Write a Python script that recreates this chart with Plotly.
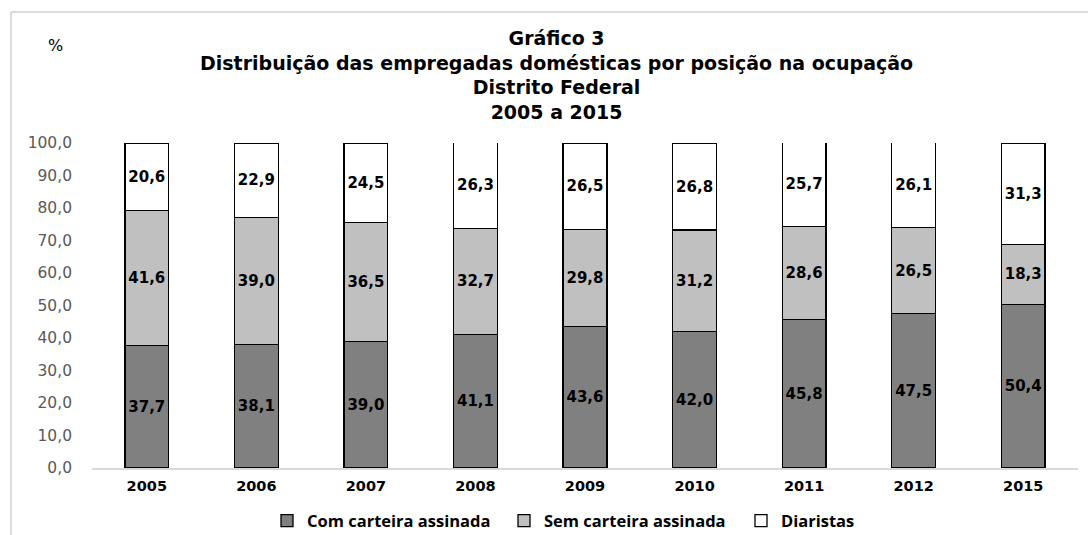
import plotly.graph_objects as go

years = ["2005", "2006", "2007", "2008", "2009", "2010", "2011", "2012", "2015"]
com_carteira = [37.7, 38.1, 39.0, 41.1, 43.6, 42.0, 45.8, 47.5, 50.4]
sem_carteira = [41.6, 39.0, 36.5, 32.7, 29.8, 31.2, 28.6, 26.5, 18.3]
diaristas = [20.6, 22.9, 24.5, 26.3, 26.5, 26.8, 25.7, 26.1, 31.3]
y_ticks = [0, 10, 20, 30, 40, 50, 60, 70, 80, 90, 100]
title_lines = [
    "Gráfico 3",
    "Distribuição das empregadas domésticas por posição na ocupação",
    "Distrito Federal",
    "2005 a 2015",
]

series = [
    ("Com carteira assinada", com_carteira, "#808080"),
    ("Sem carteira assinada", sem_carteira, "#C0C0C0"),
    ("Diaristas", diaristas, "#FFFFFF"),
]

W, H = 1088, 535
L, R, T, B = 92, 1078, 143, 468
pw, ph = R - L, B - T

def px(x):
    return (x - L) / pw

def py(y):
    return (B - y) / ph

fig = go.Figure()
for name, vals, col in series:
    fig.add_trace(go.Bar(
        x=years, y=vals, name=name,
        marker=dict(color=col, line=dict(color="#000000", width=1.3)),
        text=vals, texttemplate="%{y:.1f}", textposition="inside",
        textangle=0, constraintext="none", insidetextanchor="middle",
        textfont=dict(family="DejaVu Sans", size=15, color="#000000", weight="bold"),
        hoverinfo="skip",
    ))

annotations = [
    dict(
        text="<br>".join(title_lines), x=px(556), y=py(75),
        xref="paper", yref="paper", showarrow=False,
        xanchor="center", yanchor="middle", align="center",
        font=dict(family="DejaVu Sans", size=19, color="#000000", weight="bold"),
    ),
    dict(
        text="%", x=px(55), y=py(46), xref="paper", yref="paper",
        showarrow=False, xanchor="center", yanchor="middle",
        font=dict(family="DejaVu Sans", size=16, color="#000000"),
    ),
]

fig.update_layout(
    width=W, height=H,
    barmode="stack", bargap=0.6,
    separators=",.",
    paper_bgcolor="#FFFFFF", plot_bgcolor="#FFFFFF",
    margin=dict(l=L, r=W - R, t=T, b=H - B, autoexpand=False),
    xaxis=dict(
        showline=True, linecolor="#D9D9D9", linewidth=1.5,
        ticks="", showgrid=False, ticklabelstandoff=4,
        tickfont=dict(family="DejaVu Sans", size=14.5, color="#000000", weight="bold"),
    ),
    yaxis=dict(
        range=[0, 100], tickvals=y_ticks, tickformat=".1f",
        showgrid=False, showline=False, zeroline=False, ticks="",
        ticklabelstandoff=19,
        tickfont=dict(family="DejaVu Sans", size=15.5, color="#595959"),
    ),
    legend=dict(
        orientation="h", traceorder="normal",
        x=px(267), xanchor="left",
        y=py(521), yanchor="middle",
        font=dict(family="Open Sans", size=16.5, color="#000000", weight="bold"),
        itemwidth=30, entrywidth=192, bgcolor="rgba(0,0,0,0)",
    ),
    showlegend=True,
    annotations=annotations,
    shapes=[
        dict(type="line", xref="paper", yref="paper",
             x0=px(11), x1=px(11), y0=py(12), y1=py(540),
             line=dict(color="#D0D0D0", width=1.5)),
        dict(type="line", xref="paper", yref="paper",
             x0=px(11), x1=px(1095), y0=py(12), y1=py(12),
             line=dict(color="#D0D0D0", width=1.5)),
    ],
)

fig.write_html("out.html", config={"displayModeBar": False},
               post_script="document.body.style.margin='0';")
